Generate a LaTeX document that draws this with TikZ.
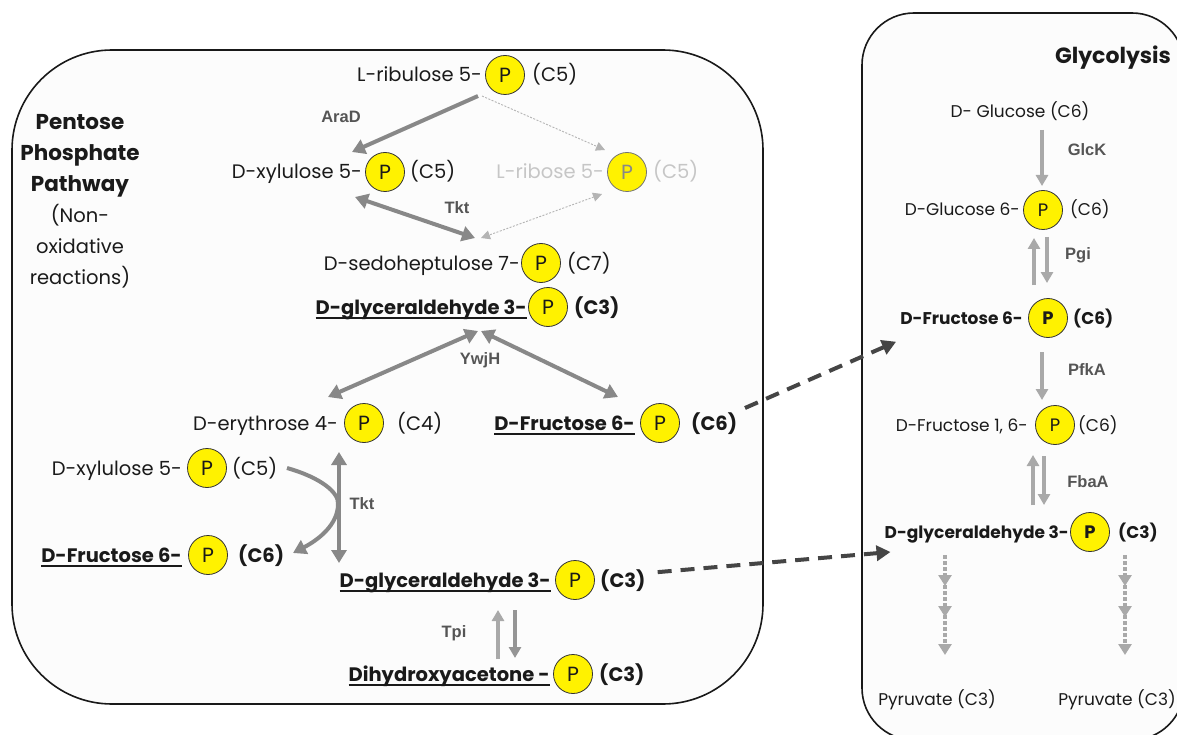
\documentclass[tikz,border=0pt]{standalone}
\usepackage{fontspec}
\setmainfont{Poppins}
\newfontfamily\enzfont{Liberation Sans}
\usetikzlibrary{arrows.meta,decorations.markings}
\definecolor{gA}{HTML}{888888}
\definecolor{gL}{HTML}{A9A9A9}
\definecolor{gM}{HTML}{959595}
\definecolor{gD}{HTML}{454545}
\definecolor{gT}{HTML}{C6C6C6}
\definecolor{gTh}{HTML}{B4B4B4}
\definecolor{txt}{HTML}{1A1A1A}
\definecolor{enzc}{HTML}{555555}
\definecolor{boxfill}{HTML}{FCFCFC}
\newcommand\uln[1]{\leavevmode\setbox0=\hbox{#1}\rlap{\rule[-5pt]{\wd0}{1.8pt}}\box0}
\begin{document}
\begin{tikzpicture}[x=1pt,y=-1pt,
  boxst/.style={draw=black!90, line width=1.6pt, fill=boxfill},
  cmp/.style={inner sep=0pt, text=txt, font=\fontsize{19.5}{22}\selectfont},
  bcmp/.style={cmp, font=\fontsize{19.5}{22}\selectfont\bfseries},
  rcmp/.style={inner sep=0pt, text=txt, font=\fontsize{17}{20}\selectfont},
  rbcmp/.style={rcmp, font=\fontsize{17}{20}\selectfont\bfseries},
  pc/.style={circle, draw=black!80, fill=yellow, line width=0.8pt, minimum size=39pt, inner sep=0pt, text=txt, font=\fontsize{20.5}{22}\selectfont},
  rpc/.style={pc, font=\fontsize{18}{20}\selectfont},
  rbpc/.style={pc, font=\fontsize{18}{20}\selectfont\bfseries},
  enzl/.style={inner sep=0pt, text=enzc, font=\enzfont\bfseries\fontsize{16.5}{18}\selectfont},
  thk/.style={draw=gA, line width=4pt, -{Triangle[length=13pt,width=15pt]}},
  thkb/.style={draw=gA, line width=4pt, {Triangle[length=13pt,width=15pt]}-{Triangle[length=13pt,width=15pt]}},
  thin/.style={draw=gTh, line width=0.9pt, dash pattern=on 2pt off 1.5pt, -{Triangle[length=9pt,width=9pt]}},
  thinb/.style={draw=gTh, line width=0.9pt, dash pattern=on 2pt off 1.5pt, {Triangle[length=9pt,width=9pt]}-{Triangle[length=9pt,width=9pt]}},
  lgt/.style={draw=gL, line width=3.2pt, -{Triangle[length=11pt,width=12pt]}},
  mgt/.style={draw=gM, line width=3.2pt, -{Triangle[length=11pt,width=12pt]}},
  dsh/.style={draw=gD, line width=4pt, dash pattern=on 14pt off 9pt, -{Triangle[length=14pt,width=15pt]}},
  dotarr/.style={draw=gL, line width=3.4pt, dash pattern=on 3.5pt off 2.5pt, -{Triangle[length=11pt,width=13pt]},
    postaction={decorate}, decoration={markings,
      mark=at position 0.31 with {\arrow[gL]{Triangle[length=11pt,width=13pt]}},
      mark=at position 0.62 with {\arrow[gL]{Triangle[length=11pt,width=13pt]}}}}
]
\clip (0,0) rectangle (1177,735);
\useasboundingbox (0,0) rectangle (1177,735);
\fill[white] (0,0) rectangle (1177,735);

% boxes
\draw[boxst, rounded corners=100pt] (12,50) rectangle (763,704);
\draw[boxst, rounded corners=52pt] (862,13) rectangle (1184,740);

% left title
\node[inner sep=0pt, text=txt, align=center, font=\fontsize{19.5}{31}\selectfont] (ppp) at (80,201)
  {{\fontsize{21.5}{31}\selectfont\bfseries Pentose}\\ {\fontsize{21.5}{31}\selectfont\bfseries Phosphate}\\ {\fontsize{21.5}{31}\selectfont\bfseries Pathway}\\ (Non-\\ oxidative\\ reactions)};

% ---- left compounds ----
\node[pc] (lribP) at (505,75) {P};
\node[cmp, anchor=base east] (lrib) at (482,82) {L-ribulose 5-};
\node[cmp, anchor=base west] (lribS) at (532,82) {(C5)};

\node[pc] (xylP) at (385,172) {P};
\node[cmp, anchor=base east] (xyl) at (362,179) {D-xylulose 5-};
\node[cmp, anchor=base west] (xylS) at (410,179) {(C5)};

\node[pc, draw=black!55, text=gA] (ribP) at (627,172) {P};
\node[cmp, text=gT, anchor=base east] (rib) at (604,179) {L-ribose 5-};
\node[cmp, text=gT, anchor=base west] (ribS) at (653,179) {(C5)};

\node[pc] (sedoP) at (541,263) {P};
\node[cmp, anchor=base east] (sedo) at (520,270) {D-sedoheptulose 7-};
\node[cmp, anchor=base west] (sedoS) at (567,270) {(C7)};

\node[pc] (gapP) at (548,307) {P};
\node[bcmp, anchor=base east] (gap) at (527,314) {\uln{D-glyceraldehyde 3-}};
\node[bcmp, anchor=base west] (gapS) at (574,314) {(C3)};

\node[pc] (eryP) at (364,423) {P};
\node[cmp, anchor=base east] (ery) at (338,430) {D-erythrose 4-};
\node[cmp, anchor=base west] (eryS) at (397,430) {(C4)};

\node[pc] (fruP) at (660,423) {P};
\node[bcmp, anchor=base east] (fru) at (635,430) {\uln{D-Fructose 6-}};
\node[bcmp, anchor=base west] (fruS) at (691,430) {(C6)};

\node[pc] (xyl2P) at (207,468) {P};
\node[cmp, anchor=base east] (xyl2) at (182,475) {D-xylulose 5-};
\node[cmp, anchor=base west] (xyl2S) at (232,475) {(C5)};

\node[pc] (fru2P) at (208,555) {P};
\node[bcmp, anchor=base east] (fru2) at (182,562) {\uln{D-Fructose 6-}};
\node[bcmp, anchor=base west] (fru2S) at (238,562) {(C6)};

\node[pc] (gap2P) at (575,580) {P};
\node[bcmp, anchor=base east] (gap2) at (551,587) {\uln{D-glyceraldehyde 3-}};
\node[bcmp, anchor=base west] (gap2S) at (600,587) {(C3)};

\node[pc] (dhaP) at (573,674) {P};
\node[bcmp, anchor=base east] (dha) at (550,681) {\uln{Dihydroxyacetone -}};
\node[bcmp, anchor=base west] (dhaS) at (599,681) {(C3)};

% enzyme labels left
\node[enzl] (araD) at (341,117) {AraD};
\node[enzl] (tkt1) at (457,208) {Tkt};
\node[enzl] (ywjH) at (480,360) {YwjH};
\node[enzl] (tkt2) at (362,504) {Tkt};
\node[enzl] (tpi) at (454,633) {Tpi};

% left arrows
\draw[thk] ([shift={(-27,21)}]lribP.center) -- ([shift={(-33,-20)}]xylP.center);
\draw[thin] ([shift={(-23,21)}]lribP.center) -- ([shift={(-22,-22)}]ribP.center);
\draw[thkb] ([shift={(-30,25)}]xylP.center) -- ([shift={(-66,-25)}]sedoP.center);
\draw[thinb] ([shift={(-25,22)}]ribP.center) -- ([shift={(-60,-25)}]sedoP.center);
\draw[thkb] ([shift={(-70,24)}]gapP.center) -- ([shift={(-36,-26)}]eryP.center);
\draw[thkb] ([shift={(-67,24)}]gapP.center) -- ([shift={(-42,-26)}]fruP.center);
\draw[thkb] ([shift={(-25,29)}]eryP.center) -- ([shift={(-236,-17)}]gap2P.center);
\draw[thk] ([shift={(80,0)}]xyl2P.center) .. controls ([shift={(115,10)}]xyl2P.center) and ([shift={(132,25)}]xyl2P.center) .. ([shift={(131,36)}]xyl2P.center)
   .. controls ([shift={(130,-30)}]fru2P.center) and ([shift={(110,-15)}]fru2P.center) .. ([shift={(85,-2)}]fru2P.center);
\draw[lgt] ([shift={(-75,-15)}]dhaP.center) -- ([shift={(-77,30)}]gap2P.center);
\draw[mgt] ([shift={(-60,30)}]gap2P.center) -- ([shift={(-58,-16)}]dhaP.center);

% ---- right panel ----
\node[inner sep=0pt, text=txt, font=\fontsize{22}{24}\selectfont\bfseries] (glyco) at (1113,58) {Glycolysis};
\node[rcmp] (glc) at (1020,111) {D- Glucose (C6)};

\node[rpc] (gg6P) at (1043,210) {P};
\node[rcmp, anchor=base east] (gg6) at (1020,216) {D-Glucose 6-};
\node[rcmp, anchor=base west] (gg6S) at (1070,216) {(C6)};

\node[rbpc] (gfP) at (1048,318) {P};
\node[rbcmp, anchor=base east] (gf) at (1023,324) {D-Fructose 6-};
\node[rbcmp, anchor=base west] (gfS) at (1073,324) {(C6)};

\node[rpc] (gf16P) at (1055,425) {P};
\node[rcmp, anchor=base east] (gf16) at (1028,431) {D-Fructose 1, 6-};
\node[rcmp, anchor=base west] (gf16S) at (1078,431) {(C6)};

\node[rbpc] (ggapP) at (1090,532) {P};
\node[rbcmp, anchor=base east] (ggap) at (1069,538) {D-glyceraldehyde 3-};
\node[rbcmp, anchor=base west] (ggapS) at (1118,538) {(C3)};

\node[rcmp] (pyr1) at (937,700) {Pyruvate (C3)};
\node[rcmp] (pyr2) at (1117,700) {Pyruvate (C3)};

\node[enzl] (glck) at (1087,150) {GlcK};
\node[enzl] (pgi) at (1078,255) {Pgi};
\node[enzl] (pfka) at (1087,370) {PfkA};
\node[enzl] (fbaa) at (1088,482) {FbaA};

\draw[lgt] ([shift={(-1,-80)}]gg6P.center) -- ([shift={(-1,-24)}]gg6P.center);
\draw[lgt] ([shift={(-14,-33)}]gfP.center) -- ([shift={(-9,28)}]gg6P.center);
\draw[lgt] ([shift={(4,27)}]gg6P.center) -- ([shift={(-1,-35)}]gfP.center);
\draw[lgt] ([shift={(-6,34)}]gfP.center) -- ([shift={(-13,-25)}]gf16P.center);
\draw[lgt] ([shift={(-57,-27)}]ggapP.center) -- ([shift={(-22,30)}]gf16P.center);
\draw[lgt] ([shift={(-11,31)}]gf16P.center) -- ([shift={(-46,-27)}]ggapP.center);
\draw[dotarr] ([shift={(-145,23)}]ggapP.center) -- ([shift={(8,-45)}]pyr1.center);
\draw[dotarr] ([shift={(35,23)}]ggapP.center) -- ([shift={(8,-45)}]pyr2.center);

% dashed connections
\draw[dsh] ([shift={(85,-15)}]fruP.center) -- ([shift={(-4,24)}]gf.west);
\draw[dsh] ([shift={(12,-8)}]gap2S.east) -- ([shift={(6,18)}]ggap.west);
\end{tikzpicture}
\end{document}
